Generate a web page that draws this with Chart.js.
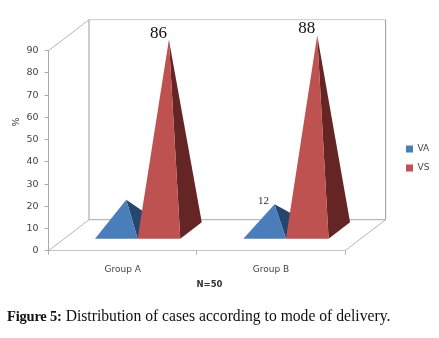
<!DOCTYPE html>
<html>
<head>
<meta charset="utf-8">
<script src="https://cdn.jsdelivr.net/npm/chart.js@4/dist/chart.umd.js"></script>
<style>
  html, body { margin: 0; padding: 0; background: #fff; }
  #wrap { position: relative; width: 439px; height: 338px; overflow: hidden; }
  canvas { position: absolute; left: 0; top: 0; }
  #caption { position: absolute; left: 7px; top: 307px; white-space: nowrap; font: 15.65px "Liberation Serif", serif; color: #111; }
  #caption b { font-size: 14.5px; letter-spacing: -0.2px; }
</style>
</head>
<body>
<div id="wrap">
  <canvas id="chart" width="439" height="338"></canvas>
  <div id="caption"><b>Figure 5:</b> Distribution of cases according to mode of delivery.</div>
</div>
<script>
const categories = ['Group A', 'Group B'];
const vaValues = [14, 12];
const vsValues = [86, 88];
const vaLabels = [null, '12'];
const vsLabels = ['86', '88'];
const xTitle = 'N=50';
const yTitle = '%';

// fake 3d: how far the back wall sits from the front of the plot
const depthX = 40.5;
const depthY = -31;
const baseFront = 0.37;
const baseBack = 0.9;
const apexDepth = 0.64;

function project(x, y, d) {
  return [x + depthX * d, y + depthY * d];
}

function poly(ctx, pts, fill) {
  ctx.beginPath();
  pts.forEach((p, i) => (i ? ctx.lineTo(p[0], p[1]) : ctx.moveTo(p[0], p[1])));
  ctx.closePath();
  ctx.fillStyle = fill;
  ctx.fill();
}

function seg(ctx, a, b, color) {
  ctx.beginPath();
  ctx.moveTo(a[0], a[1]);
  ctx.lineTo(b[0], b[1]);
  ctx.strokeStyle = color;
  ctx.lineWidth = 1;
  ctx.stroke();
}

function drawWalls(ctx, area) {
  const fl = [area.left, area.bottom];
  const fr = [area.right, area.bottom];
  const tl = [area.left, area.top];
  const bl = project(area.left, area.bottom, 1);
  const br = project(area.right, area.bottom, 1);
  const ul = project(area.left, area.top, 1);
  const ur = project(area.right, area.top, 1);
  seg(ctx, tl, ul, '#b5b5b5');
  seg(ctx, fl, bl, '#b5b5b5');
  seg(ctx, fr, br, '#b5b5b5');
  seg(ctx, ul, ur, '#c8c8c8');
  seg(ctx, ul, bl, '#9a9a9a');
  seg(ctx, ur, br, '#9a9a9a');
  seg(ctx, bl, br, '#a8a8a8');
}

function drawPyramid(ctx, bar, front, side) {
  const left = bar.x - bar.width / 2;
  const right = bar.x + bar.width / 2;
  const apex = project(bar.x - 1, bar.y, apexDepth);
  const fl = project(left, bar.base, baseFront);
  const fr = project(right, bar.base, baseFront);
  const br = project(right, bar.base, baseBack);
  poly(ctx, [apex, fr, br], side);
  poly(ctx, [apex, fl, fr], front);
}

function drawLabel(ctx, text, x, y, font, color) {
  ctx.font = font;
  ctx.fillStyle = color;
  ctx.textAlign = 'center';
  ctx.textBaseline = 'middle';
  ctx.fillText(text, x, y);
}

const pyramidPlugin = {
  id: 'pyramids',
  afterLayout(chart) {
    // legend sits well to the right of the back wall
    const lg = chart.legend;
    const w = lg.right - lg.left;
    lg.left = 396;
    lg.right = 396 + w;
    lg.top = 131;
    lg.bottom = 186;
  },
  beforeDatasetsDraw(chart) {
    const ctx = chart.ctx;
    const area = chart.chartArea;
    const va = chart.getDatasetMeta(0).data;
    const vs = chart.getDatasetMeta(1).data;
    ctx.save();
    drawWalls(ctx, area);
    categories.forEach((c, i) => {
      drawPyramid(ctx, va[i], '#4a7ebb', '#26466d');
      drawPyramid(ctx, vs[i], '#be5250', '#652524');
    });
    categories.forEach((c, i) => {
      const a = project(vs[i].x, vs[i].y, apexDepth);
      drawLabel(ctx, vsLabels[i], a[0] - 11.5, a[1] - 6.5, '17px "Liberation Serif"', '#111');
      if (vaLabels[i]) {
        const b = project(va[i].x, va[i].y, apexDepth);
        drawLabel(ctx, vaLabels[i], b[0] - 12, b[1] - 3.5, '11px "Liberation Serif"', '#333');
      }
    });
    drawLabel(ctx, xTitle, 209.5, 284.5, 'bold 8.5px "DejaVu Sans"', '#333');
    ctx.translate(17, 122);
    ctx.rotate(-Math.PI / 2);
    drawLabel(ctx, yTitle, 0, 0, '9.5px "DejaVu Sans"', '#333');
    ctx.restore();
    return false;
  },
};

new Chart(document.getElementById('chart'), {
  type: 'bar',
  data: {
    labels: categories,
    datasets: [
      { label: 'VA', data: vaValues, backgroundColor: '#4a7ebb', borderWidth: 0 },
      { label: 'VS', data: vsValues, backgroundColor: '#be5250', borderWidth: 0 },
    ],
  },
  plugins: [pyramidPlugin],
  options: {
    responsive: false,
    animation: false,
    categoryPercentage: 0.575,
    barPercentage: 1,
    layout: { padding: { top: 50.7, right: 50.5, bottom: 0, left: 0 } },
    plugins: {
      tooltip: { enabled: false },
      legend: {
        position: 'right',
        labels: {
          boxWidth: 7,
          boxHeight: 7,
          padding: 10,
          color: '#444',
          font: { family: '"DejaVu Sans"', size: 9 },
        },
      },
    },
    scales: {
      x: {
        afterFit: (s) => { s.height = 87.3; },
        border: { color: '#c4c4c4' },
        grid: { drawOnChartArea: false, tickLength: 4, color: '#b0b0b0' },
        ticks: { color: '#444', padding: 10, maxRotation: 0, font: { family: '"DejaVu Sans"', size: 9 } },
      },
      y: {
        min: 0,
        max: 90,
        afterFit: (s) => { s.width = 48.5; },
        border: { color: '#a8a8a8' },
        grid: { drawOnChartArea: false, tickLength: 4, color: '#a8a8a8' },
        ticks: { stepSize: 10, color: '#444', padding: 6, font: { family: '"DejaVu Sans"', size: 9.5 } },
      },
    },
  },
});
</script>
</body>
</html>
